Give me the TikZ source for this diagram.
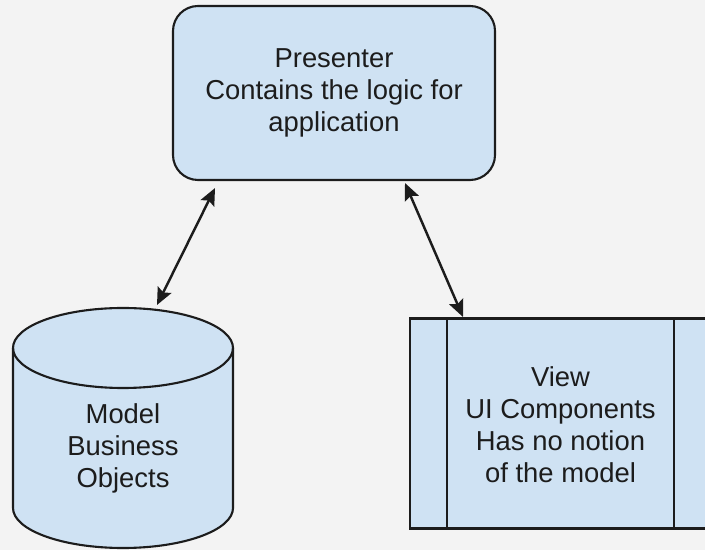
\documentclass[tikz,border=0pt]{standalone}
\usepackage{fontspec}
\setmainfont{Liberation Sans}
\usepackage{tikz}
\usetikzlibrary{arrows.meta, calc}
\definecolor{boxblue}{HTML}{CFE2F3}
\definecolor{bggray}{HTML}{F3F3F3}
\definecolor{ink}{HTML}{1C1C1C}

\begin{document}
\begin{tikzpicture}[x=0.02cm, y=0.02cm,
  part/.style={draw=ink, fill=boxblue, line width=1.2pt, text=ink, align=center,
    font=\fontsize{15.6}{18.2}\selectfont, inner sep=0pt},
  link/.style={{Stealth[length=0.34cm, width=0.3cm, inset=0.06cm]}-{Stealth[length=0.34cm, width=0.3cm, inset=0.06cm]}, line width=1.4pt, draw=ink}]
\useasboundingbox (0,0) rectangle (705,550);
\fill[bggray] (0,0) rectangle (705,550);
\clip (0,0) rectangle (705,550);

\node[part, rounded corners=0.5cm, minimum width=322*0.02cm, minimum height=174*0.02cm] (P) at (334,457)
  {Presenter\\Contains the logic for\\application};

% model cylinder
\filldraw[draw=ink, fill=boxblue, line width=1.2pt] (13,202) -- (13,42)
  arc[start angle=180, end angle=360, x radius=110, y radius=40] -- (233,202)
  arc[start angle=0, end angle=180, x radius=110, y radius=40] -- cycle;
\draw[draw=ink, line width=1.2pt] (13,202) arc[start angle=180, end angle=360, x radius=110, y radius=40];
\node[text=ink, align=center, font=\fontsize{15.6}{18.2}\selectfont] (M) at (123,102) {Model\\Business\\Objects};
\coordinate (Mtop) at (157,245);

\node[part, minimum width=301*0.02cm, minimum height=210*0.02cm] (V) at (560.5,126.5) {};
\draw[draw=ink, line width=1.2pt] ($(V.north west)+(38,0)$) -- ($(V.south west)+(38,0)$);
\draw[draw=ink, line width=1.2pt] ($(V.north east)+(-38,0)$) -- ($(V.south east)+(-38,0)$);
\node[text=ink, align=center, font=\fontsize{15.6}{18.2}\selectfont] (Vt) at (560.5,125)
  {View\\UI Components\\Has no notion\\of the model};
\coordinate (Vtop) at (463,233);

\draw[link] ($(P.south)+(-119,-7)$) -- (Mtop);
\draw[link] ($(P.south)+(71,-2)$) -- (Vtop);
\end{tikzpicture}
\end{document}
